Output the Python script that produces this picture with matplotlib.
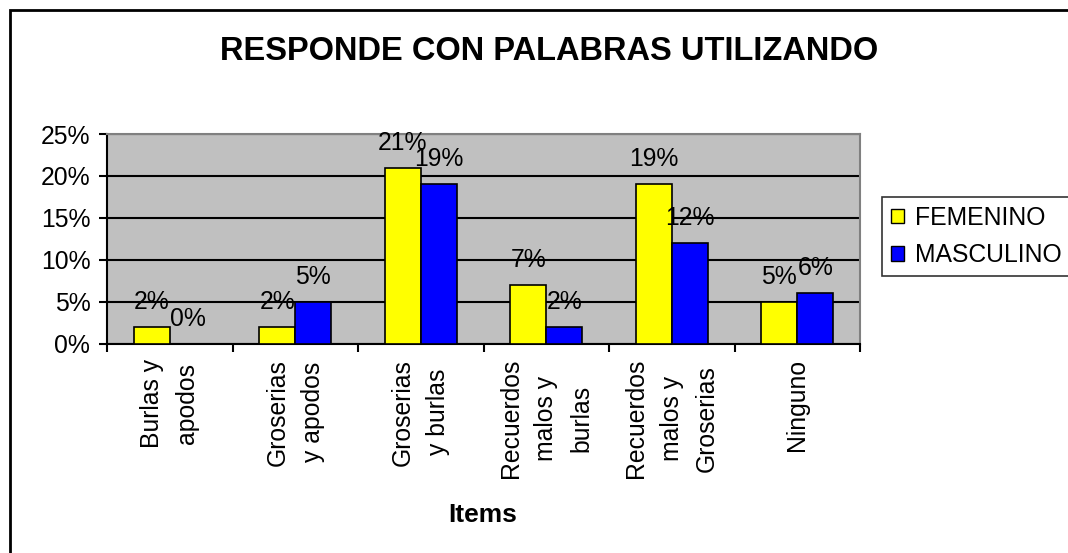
import numpy as np
import matplotlib
matplotlib.use("Agg")
import matplotlib.pyplot as plt
from matplotlib.patches import Patch, Rectangle

plt.rcParams["font.family"] = ["Liberation Sans", "DejaVu Sans"]

categories = ["Burlas y\napodos", "Groserias\ny apodos", "Groserias\ny burlas",
              "Recuerdos\nmalos y\nburlas", "Recuerdos\nmalos y\nGroserias", "Ninguno"]
femenino = [2, 2, 21, 7, 19, 5]
masculino = [0, 5, 19, 2, 12, 6]
series_names = ["FEMENINO", "MASCULINO"]
yticks = [0, 5, 10, 15, 20, 25]

W, H = 1068, 553
FS = 17.8
fig = plt.figure(figsize=(W / 100, H / 100), dpi=100)
ax = fig.add_axes([107 / W, 1 - 343.5 / H, 753 / W, 209.5 / H])

x = np.arange(len(categories))
w = 0.287
ax.set_facecolor("#c0c0c0")
b1 = ax.bar(x - w / 2, femenino, w, color="#ffff00", edgecolor="black", linewidth=1.2, zorder=3)
b2 = ax.bar(x + w / 2, masculino, w, color="#0000ff", edgecolor="black", linewidth=1.2, zorder=3)

for bars, vals in ((b1, femenino), (b2, masculino)):
    for rect, v in zip(bars, vals):
        ax.annotate(f"{v}%", (rect.get_x() + rect.get_width() / 2, v),
                    xytext=(0, 18), textcoords="offset points",
                    ha="center", va="center", fontsize=FS, zorder=4,
                    annotation_clip=False)

ax.set_xlim(-0.5, len(categories) - 0.5)
ax.set_ylim(0, 25)
ax.set_yticks(yticks)
ax.set_yticklabels([f"{t}%" for t in yticks], fontsize=FS)
ax.yaxis.grid(True, color="black", linewidth=1.5, zorder=1)
ax.set_axisbelow(True)

ax.set_xticks(np.arange(len(categories) + 1) - 0.5)
ax.set_xticklabels([])
ax.set_xticks(x, minor=True)
ax.set_xticklabels(categories, minor=True, rotation=90, fontsize=FS,
                   va="top", ha="center", multialignment="center", linespacing=1.6)
ax.tick_params(axis="x", which="minor", length=0, pad=11)
ax.tick_params(axis="both", which="major", length=6, width=1.5, direction="out")
ax.tick_params(axis="y", pad=6)

for s in ("left", "bottom"):
    ax.spines[s].set_linewidth(1.5)
for s in ("top", "right"):
    ax.spines[s].set_color("#808080")
    ax.spines[s].set_linewidth(1.5)

fig.text(549 / W, 1 - 51 / H, "RESPONDE CON PALABRAS UTILIZANDO",
         ha="center", va="center", fontsize=23.5, fontweight="bold")
fig.text(483 / W, 1 - 515 / H, "Items", ha="center", va="center",
         fontsize=19, fontweight="bold")

handles = [Patch(facecolor="#ffff00", edgecolor="black"),
           Patch(facecolor="#0000ff", edgecolor="black")]
leg = fig.legend(handles, series_names, loc="center left",
                 bbox_to_anchor=(882 / W, 1 - 236.5 / H), fontsize=FS,
                 frameon=True, fancybox=False, handlelength=0.55, handleheight=0.55,
                 handletextpad=0.45, borderpad=0.35, labelspacing=0.55,
                 borderaxespad=0)
leg.get_frame().set_edgecolor("black")
leg.get_frame().set_linewidth(1.2)

fig.add_artist(Rectangle((10 / W, -0.1), 1.1, 1.1 - 10 / H, transform=fig.transFigure,
                         fill=False, edgecolor="black", linewidth=2))

fig.savefig("out.png", dpi=100)
